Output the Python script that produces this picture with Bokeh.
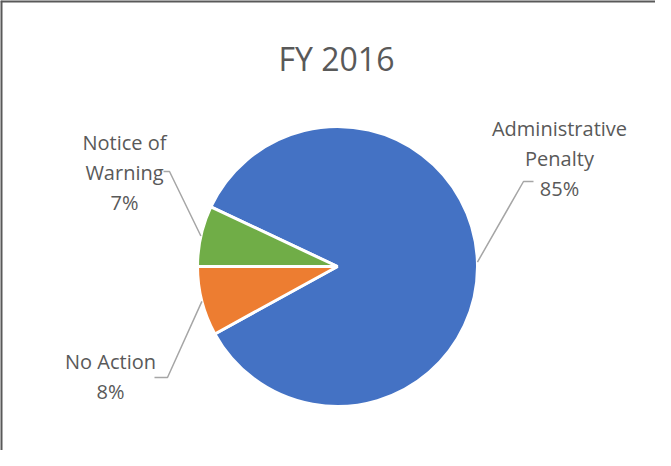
import math
from bokeh.plotting import figure
from bokeh.models import ColumnDataSource, Label, Span
from bokeh.core.properties import value
from bokeh.embed import file_html
from bokeh.resources import INLINE

# ---- data ----
title_text = "FY 2016"
categories = ["Administrative Penalty", "No Action", "Notice of Warning"]
label_wraps = [["Administrative", "Penalty"], ["No Action"], ["Notice of", "Warning"]]
values = [85, 8, 7]
colors = ["#4472C4", "#ED7D31", "#70AD47"]

# ---- layout (window pixels -> data with 1px = 1 unit) ----
W, H = 655, 450
def dx(X):
    return X - 8
def dy(Y):
    return 458 - Y

cx, cy, r = dx(345), dy(274), 140
FONT = "Open Sans"
TXT = "#595959"
label_pos = [(567, 136), (118, 369), (132, 150)]          # centre x, first baseline
leader_knee = [[(531, 189), (541, 189)], [(175, 385), (162, 385)], [(177, 179), (171, 179)]]
line_gap = 30

p = figure(width=W, height=H, x_range=(0, W), y_range=(0, H),
           output_backend="svg", toolbar_location=None, min_border=0,
           background_fill_color="white", border_fill_color="white")
p.axis.visible = False
p.grid.visible = False
p.outline_line_color = None

total = float(sum(values))
# boundary between last two slices sits at 9 o'clock; slices run clockwise
a0 = math.pi - 2 * math.pi * values[-1] / total
starts, ends, mids = [], [], []
cum = 0.0
for v in values:
    s_cw = a0 - 2 * math.pi * cum / total
    e_cw = s_cw - 2 * math.pi * v / total
    starts.append(e_cw)
    ends.append(s_cw)
    mids.append((s_cw + e_cw) / 2)
    cum += v

src = ColumnDataSource(dict(start=starts, end=ends, color=colors, cat=categories))
p.wedge(x=cx, y=cy, radius=r, start_angle="start", end_angle="end",
        fill_color="color", line_color="white", line_width=3, source=src)

# leader lines
xs, ys = [], []
for m, knee in zip(mids, leader_knee):
    px = cx + r * math.cos(m)
    py = cy + r * math.sin(m)
    xs.append([px] + [dx(k[0]) for k in knee])
    ys.append([py] + [dy(k[1]) for k in knee])
p.multi_line(xs=xs, ys=ys, line_color="#A6A6A6", line_width=1.5)

# labels
tx, ty, tt = [], [], []
for wrap, v, (lx, ly) in zip(label_wraps, values, label_pos):
    lines = wrap + [f"{v}%"]
    for i, ln in enumerate(lines):
        tx.append(dx(lx))
        ty.append(dy(ly + i * line_gap))
        tt.append(ln)
p.text(x=tx, y=ty, text=tt, text_align="center", text_baseline="alphabetic",
       text_font=value(FONT), text_font_size="20px", text_color=TXT)

p.add_layout(Label(x=dx(344), y=dy(66), text=title_text, text_align="center",
                   text_baseline="alphabetic", text_font=FONT,
                   text_font_size="32px", text_color=TXT))

# chart border (left and top edges visible in the crop)
p.add_layout(Span(location=0, dimension="height", line_color="#595959", line_width=4))
p.add_layout(Span(location=H, dimension="width", line_color="#595959", line_width=4))

open("out.html", "w").write(file_html(p, INLINE))
